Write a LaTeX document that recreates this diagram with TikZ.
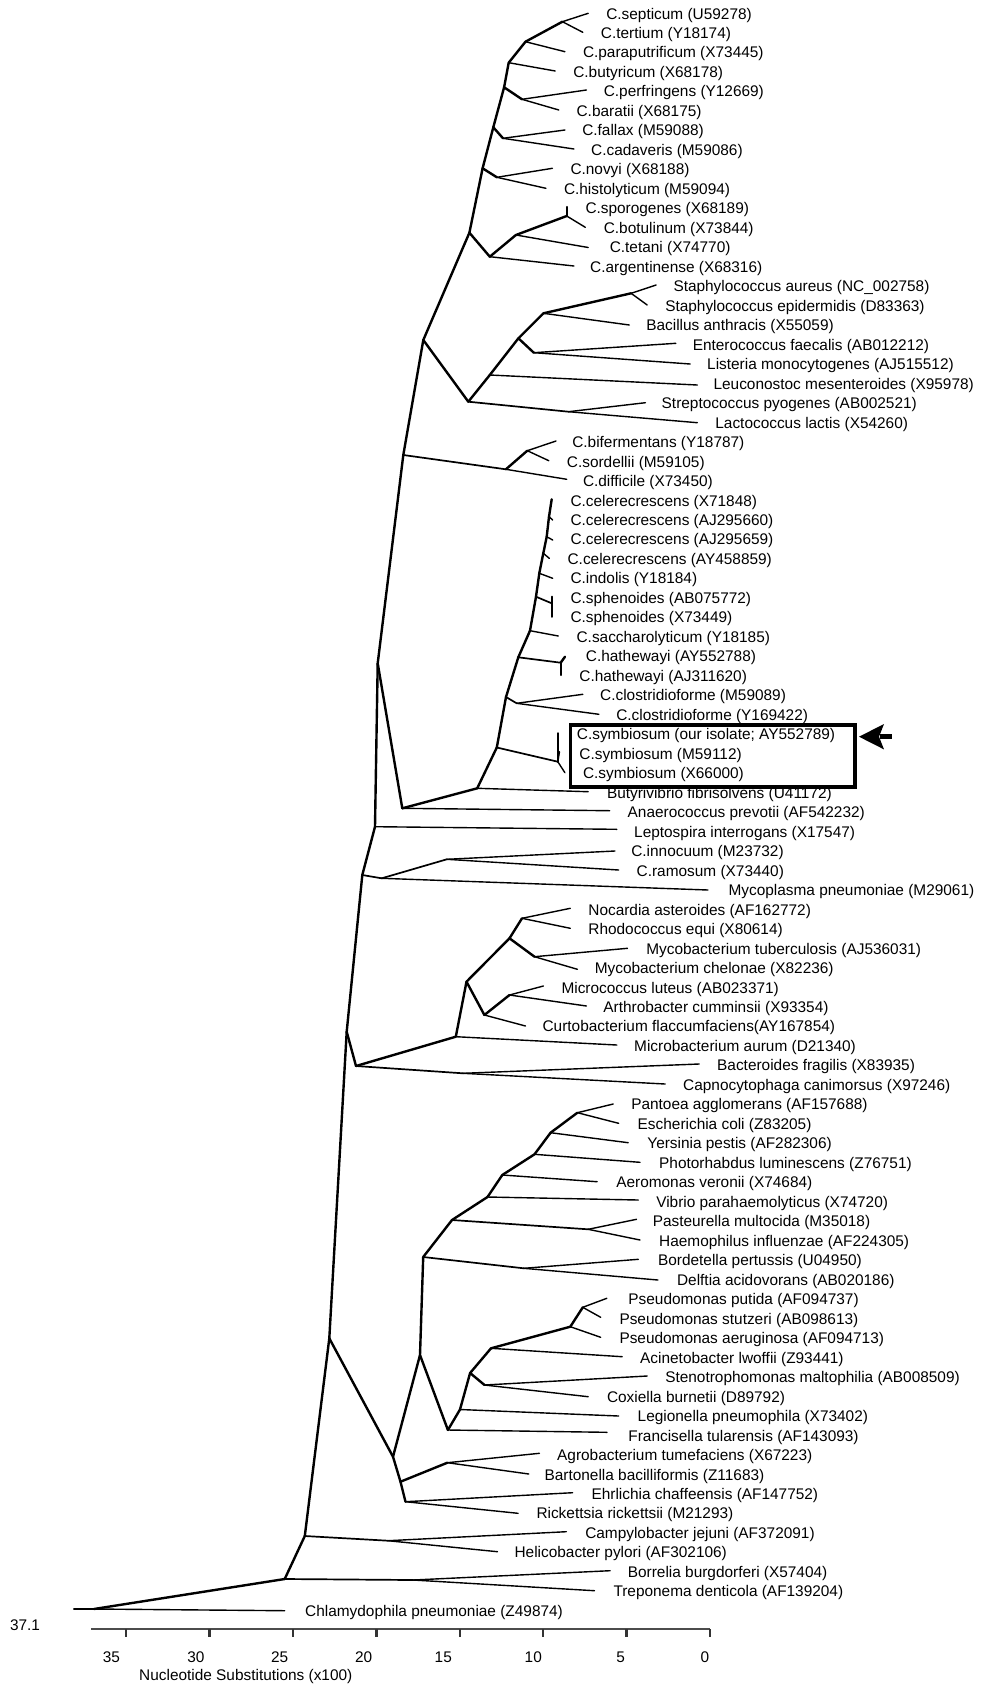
\documentclass[tikz,border=0pt]{standalone}
\usepackage{fontspec}
\setmainfont{Liberation Sans}
\newcommand{\mkleaf}[6]{%
  \coordinate (#1) at (#2,#3);
  \node[lab] (#1L) at (#4,{15+(#5-1)*19.48}) {#6};}
\begin{document}
\begin{tikzpicture}[x=1pt,y=-1pt,
  br/.style={line width=2.4pt,line cap=round,line join=round},
  md/.style={line width=1.7pt,line cap=round},
  tb/.style={line width=1.4pt,line cap=round},
  lab/.style={anchor=west,inner sep=0pt,font=\fontsize{15.4}{18}\selectfont,text height=11pt,text depth=3pt},
  axlab/.style={inner sep=0pt,font=\fontsize{15.4}{18}\selectfont}]
\useasboundingbox (0,0) rectangle (981,1684);
% internal nodes
\coordinate (st) at (562.4,21.7);
\coordinate (A) at (525.5,41.7);
\coordinate (B) at (508.7,62.7);
\coordinate (C) at (504.1,87.3);
\coordinate (pb) at (522,99.3);
\coordinate (D) at (493.3,127.3);
\coordinate (fc) at (503,138.3);
\coordinate (E) at (482.6,168.3);
\coordinate (nh) at (496.9,177.3);
\coordinate (F) at (469.4,232.7);
\coordinate (G) at (489.8,256.7);
\coordinate (H) at (515.9,235);
\coordinate (sb) at (566.7,216);
\coordinate (I) at (423.3,340);
\coordinate (J) at (468.3,401.7);
\coordinate (K) at (489.8,375);
\coordinate (L) at (518.4,338.3);
\coordinate (M) at (533.8,352.7);
\coordinate (N) at (543.4,313.3);
\coordinate (O) at (631.1,293.3);
\coordinate (P) at (568.5,411.7);
\coordinate (S) at (403.3,455);
\coordinate (Q) at (505.9,469.3);
\coordinate (R) at (527.3,450.7);
\coordinate (T) at (377.7,663.3);
\coordinate (V) at (402.3,808.3);
\coordinate (W) at (477.2,788.3);
\coordinate (sym) at (496.8,747.5);
\coordinate (symn) at (557.8,761.7);
\coordinate (clo) at (506,697);
\coordinate (clon) at (516.7,703.3);
\coordinate (hat) at (518.3,657.3);
\coordinate (hatn) at (560.7,662.7);
\coordinate (sac) at (530,630.7);
\coordinate (sph) at (536,596.7);
\coordinate (sphn) at (551.7,603.3);
\coordinate (indn) at (539.3,573.3);
\coordinate (c4) at (543.3,553.3);
\coordinate (c3) at (546.7,536.7);
\coordinate (c2) at (549,516.7);
\coordinate (U) at (375,826.7);
\coordinate (X) at (362.3,875);
\coordinate (Y) at (381.7,878.3);
\coordinate (Z) at (446.8,859.3);
\coordinate (AA) at (346.7,1031.7);
\coordinate (AB) at (356,1066);
\coordinate (AC) at (455.8,1036.7);
\coordinate (AD) at (466.5,981.7);
\coordinate (AE) at (484.4,1015);
\coordinate (AF) at (509.5,995);
\coordinate (AG) at (509.5,938.3);
\coordinate (AH) at (522,918.3);
\coordinate (AI) at (534.5,956.7);
\coordinate (AJ) at (462.9,1073.3);
\coordinate (AK) at (329.3,1338.3);
\coordinate (AL) at (393,1456.7);
\coordinate (AN) at (420,1355);
\coordinate (AP) at (423.2,1257);
\coordinate (AX) at (452,1220);
\coordinate (PH) at (588.2,1229.3);
\coordinate (AY) at (487.5,1197);
\coordinate (AZ) at (502.3,1175);
\coordinate (BA) at (534.5,1154.3);
\coordinate (BB) at (550.6,1132.7);
\coordinate (BC) at (577.4,1112.7);
\coordinate (BDn) at (523.8,1268.3);
\coordinate (AO) at (447.9,1430);
\coordinate (BD) at (460,1409.5);
\coordinate (BE) at (470.1,1373);
\coordinate (SC) at (484.5,1385);
\coordinate (BF) at (491,1348.3);
\coordinate (BG) at (570.3,1326.7);
\coordinate (BH) at (582.8,1307.3);
\coordinate (AQ) at (400.5,1481.7);
\coordinate (AR) at (447.4,1462.7);
\coordinate (AS) at (405.5,1501.7);
\coordinate (AT) at (304.8,1536);
\coordinate (AU) at (388,1540.7);
\coordinate (AV) at (284.7,1579);
\coordinate (AW) at (413,1580);
\coordinate (root) at (93.9,1609);
\coordinate (rootL) at (73.8,1609);
% leaves
\mkleaf{sep}{588.2}{13.3}{606.1}{1}{C.septicum (U59278)}
\mkleaf{ter}{582.8}{32.3}{600.7}{2}{C.tertium (Y18174)}
\mkleaf{par}{564.9}{51.7}{582.8}{3}{C.paraputrificum (X73445)}
\mkleaf{but}{555.2}{71}{573.1}{4}{C.butyricum (X68178)}
\mkleaf{per}{586.4}{90}{603.6}{5}{C.perfringens (Y12669)}
\mkleaf{bar}{558.8}{110}{576.4}{6}{C.baratii (X68175)}
\mkleaf{fal}{564.9}{130}{582.1}{7}{C.fallax (M59088)}
\mkleaf{cad}{573.9}{149}{591}{8}{C.cadaveris (M59086)}
\mkleaf{nov}{552.4}{168.3}{570.3}{9}{C.novyi (X68188)}
\mkleaf{his}{545.9}{188.3}{563.8}{10}{C.histolyticum (M59094)}
\mkleaf{spo}{566.7}{207}{585.3}{11}{C.sporogenes (X68189)}
\mkleaf{bot}{585.3}{227.3}{603.6}{12}{C.botulinum (X73844)}
\mkleaf{tet}{588.2}{247.5}{609.6}{13}{C.tetani (X74770)}
\mkleaf{arg}{573.9}{266}{590}{14}{C.argentinense (X68316)}
\mkleaf{sau}{656.1}{285}{673.3}{15}{Staphylococcus aureus (NC\_002758)}
\mkleaf{sepi}{647.2}{305}{665.1}{16}{Staphylococcus epidermidis (D83363)}
\mkleaf{ban}{629.3}{325}{646.1}{17}{Bacillus anthracis (X55059)}
\mkleaf{efa}{675.8}{343.3}{692.6}{18}{Enterococcus faecalis (AB012212)}
\mkleaf{lmo}{690.1}{364}{707}{19}{Listeria monocytogenes (AJ515512)}
\mkleaf{lme}{697.3}{385}{713.4}{20}{Leuconostoc mesenteroides (X95978)}
\mkleaf{spy}{645.4}{402.7}{661.5}{21}{Streptococcus pyogenes (AB002521)}
\mkleaf{lla}{697.3}{422.7}{715.2}{22}{Lactococcus lactis (X54260)}
\mkleaf{bif}{556}{441}{572.1}{23}{C.bifermentans (Y18787)}
\mkleaf{sor}{548.8}{460.7}{566.7}{24}{C.sordellii (M59105)}
\mkleaf{dif}{566.7}{479.3}{582.8}{25}{C.difficile (X73450)}
\mkleaf{ce1}{551.7}{499.3}{570.3}{26}{C.celerecrescens (X71848)}
\mkleaf{ce2}{552.7}{520}{570.3}{27}{C.celerecrescens (AJ295660)}
\mkleaf{ce3}{552.7}{540}{570.3}{28}{C.celerecrescens (AJ295659)}
\mkleaf{ce4}{549.3}{558.3}{567.4}{29}{C.celerecrescens (AY458859)}
\mkleaf{ind}{552.7}{578.3}{570.3}{30}{C.indolis (Y18184)}
\mkleaf{sp1}{551.7}{596.7}{570.3}{31}{C.sphenoides (AB075772)}
\mkleaf{sp2}{551.7}{616.7}{570.3}{32}{C.sphenoides (X73449)}
\mkleaf{sact}{558.3}{636}{576.4}{33}{C.saccharolyticum (Y18185)}
\mkleaf{ha1}{565}{656.7}{585.7}{34}{C.hathewayi (AY552788)}
\mkleaf{ha2}{560.7}{675}{579.2}{35}{C.hathewayi (AJ311620)}
\mkleaf{cl1}{582.8}{694.3}{600}{36}{C.clostridioforme (M59089)}
\mkleaf{cl2}{598.9}{714.3}{616.1}{37}{C.clostridioforme (Y169422)}
\mkleaf{sy1}{557.8}{733.3}{576.7}{38}{C.symbiosum (our isolate; AY552789)}
\mkleaf{sy2}{559.5}{751.7}{579.2}{39}{C.symbiosum (M59112)}
\mkleaf{sy3}{564.9}{772.7}{582.8}{40}{C.symbiosum (X66000)}
\mkleaf{bfi}{588.2}{791.7}{606.8}{41}{Butyrivibrio fibrisolvens (U41172)}
\mkleaf{apr}{609.6}{810.7}{627.5}{42}{Anaerococcus prevotii (AF542232)}
\mkleaf{lin}{616.8}{829.3}{634}{43}{Leptospira interrogans (X17547)}
\mkleaf{cin}{615}{851}{631.1}{44}{C.innocuum (M23732)}
\mkleaf{cra}{618.6}{870}{636.5}{45}{C.ramosum (X73440)}
\mkleaf{mpn}{708}{890}{728.4}{46}{Mycoplasma pneumoniae (M29061)}
\mkleaf{nas}{570.3}{908.3}{588.2}{47}{Nocardia asteroides (AF162772)}
\mkleaf{req}{570.3}{928.3}{588.2}{48}{Rhodococcus equi (X80614)}
\mkleaf{mtb}{627.5}{948.3}{646.1}{49}{Mycobacterium tuberculosis (AJ536031)}
\mkleaf{mch}{577.4}{969.3}{594.6}{50}{Mycobacterium chelonae (X82236)}
\mkleaf{mlu}{543.4}{986}{561.3}{51}{Micrococcus luteus (AB023371)}
\mkleaf{acu}{586.4}{1006}{603.2}{52}{Arthrobacter cumminsii (X93354)}
\mkleaf{cfl}{525.5}{1026}{542.4}{53}{Curtobacterium flaccumfaciens(AY167854)}
\mkleaf{mau}{616.8}{1045}{634}{54}{Microbacterium aurum (D21340)}
\mkleaf{bfr}{699.1}{1064}{717}{55}{Bacteroides fragilis (X83935)}
\mkleaf{cca}{665.1}{1084}{683}{56}{Capnocytophaga canimorsus (X97246)}
\mkleaf{pag}{613.2}{1104}{631.1}{57}{Pantoea agglomerans (AF157688)}
\mkleaf{eco}{618.6}{1123.3}{637.5}{58}{Escherichia coli (Z83205)}
\mkleaf{ype}{628.2}{1142.7}{647.2}{59}{Yersinia pestis (AF282306)}
\mkleaf{plu}{640}{1162.3}{659}{60}{Photorhabdus luminescens (Z76751)}
\mkleaf{ave}{597.1}{1181.7}{616.1}{61}{Aeromonas veronii (X74684)}
\mkleaf{vpa}{638.3}{1200}{656.1}{62}{Vibrio parahaemolyticus (X74720)}
\mkleaf{pmu}{636.5}{1219.3}{652.6}{63}{Pasteurella multocida (M35018)}
\mkleaf{hin}{640}{1240}{659}{64}{Haemophilus influenzae (AF224305)}
\mkleaf{bpe}{638.3}{1259.3}{657.9}{65}{Bordetella pertussis (U04950)}
\mkleaf{dac}{657.9}{1280}{676.9}{66}{Delftia acidovorans (AB020186)}
\mkleaf{ppu}{606.8}{1298.3}{628.2}{67}{Pseudomonas putida (AF094737)}
\mkleaf{pst}{600.7}{1317.3}{619.3}{68}{Pseudomonas stutzeri (AB098613)}
\mkleaf{pae}{600.7}{1337.3}{619.3}{69}{Pseudomonas aeruginosa (AF094713)}
\mkleaf{alw}{622.2}{1356.7}{640}{70}{Acinetobacter lwoffii (Z93441)}
\mkleaf{sma}{647.2}{1376}{665.1}{71}{Stenotrophomonas maltophilia (AB008509)}
\mkleaf{cbu}{588.2}{1396.7}{606.8}{72}{Coxiella burnetii (D89792)}
\mkleaf{lpn}{618.6}{1416}{637.5}{73}{Legionella pneumophila (X73402)}
\mkleaf{ftu}{607}{1432.3}{628.2}{74}{Francisella tularensis (AF143093)}
\mkleaf{atu}{539.4}{1453.3}{557}{75}{Agrobacterium tumefaciens (X67223)}
\mkleaf{bba}{528.8}{1474}{544.4}{76}{Bartonella bacilliformis (Z11683)}
\mkleaf{ech}{572.6}{1492.7}{591.4}{77}{Ehrlichia chaffeensis (AF147752)}
\mkleaf{rri}{518.1}{1513.3}{536.3}{78}{Rickettsia rickettsii (M21293)}
\mkleaf{cje}{566.3}{1531.7}{585.1}{79}{Campylobacter jejuni (AF372091)}
\mkleaf{hpy}{497.5}{1551.7}{514.4}{80}{Helicobacter pylori (AF302106)}
\mkleaf{bbu}{610.1}{1570.7}{627.7}{81}{Borrelia burgdorferi (X57404)}
\mkleaf{tde}{594.5}{1590.7}{613.3}{82}{Treponema denticola (AF139204)}
\mkleaf{cpn}{284.7}{1610.7}{305}{83}{Chlamydophila pneumoniae (Z49874)}
% thick internal branches
\foreach \a/\b in {F/E,E/D,D/C,C/B,B/A,A/st,C/pb,D/fc,E/nh,F/G,G/H,H/sb,sb/spo,
  F/I,I/J,J/K,K/L,L/M,L/N,N/O,I/S,Q/R,S/T,
  T/V,V/W,W/sym,sym/clo,clo/hat,hat/sac,sac/sph,sph/indn,indn/c4,c4/c3,c3/c2,c2/ce1,
  sp1/sp2,ha1/hatn,hatn/ha2,sy1/symn,
  T/U,U/X,X/AA,AA/AB,AB/AC,AC/AD,AD/AG,AG/AH,AG/AI,AD/AE,AE/AF,
  AA/AK,AK/AL,AL/AN,AN/AP,AP/AX,AX/AY,AY/AZ,AZ/BA,BA/BB,BB/BC,
  AN/AO,AO/BD,BD/BE,BE/BF,BE/SC,BF/BG,BG/BH,AL/AQ,AQ/AR,AQ/AS,AK/AT,AT/AV,AV/root}
  \draw[br] (\a) -- (\b);
% medium internal branches
\foreach \a/\b in {J/P,S/Q,X/Y,Y/Z,AB/AJ,AP/BDn,AX/PH,AT/AU,AV/AW,sym/symn,clo/clon,hat/hatn,sph/sphn}
  \draw[md] (\a) -- (\b);
% terminal branches
\foreach \a/\b in {st/sep,st/ter,A/par,B/but,pb/per,pb/bar,fc/fal,fc/cad,nh/nov,nh/his,sb/bot,H/tet,G/arg,
  O/sau,O/sepi,N/ban,M/efa,M/lmo,K/lme,P/spy,P/lla,R/bif,R/sor,Q/dif,
  c2/ce2,c3/ce3,c4/ce4,indn/ind,sac/sact,clon/cl1,clon/cl2,symn/sy2,symn/sy3,
  W/bfi,V/apr,U/lin,Z/cin,Z/cra,Y/mpn,AH/nas,AH/req,AI/mtb,AI/mch,AF/mlu,AF/acu,AE/cfl,AC/mau,
  AJ/bfr,AJ/cca,BC/pag,BC/eco,BB/ype,BA/plu,AZ/ave,AY/vpa,PH/pmu,PH/hin,BDn/bpe,BDn/dac,
  BH/ppu,BH/pst,BG/pae,BF/alw,SC/sma,SC/cbu,BD/lpn,AO/ftu,AR/atu,AR/bba,AS/ech,AS/rri,
  AU/cje,AU/hpy,AW/bbu,AW/tde,root/cpn,rootL/root}
  \draw[tb] (\a) -- (\b);
% highlight box and arrow
\draw[line width=3.6pt] (570.3,725) rectangle (854.7,786.7);
\coordinate (arrtip) at (859,736.7);
\coordinate (arrend) at (892,736.7);
\fill (arrtip) -- (884,724) -- (879,736.7) -- (884,749.4) -- cycle;
\draw[line width=5pt] (880,736.7) -- (arrend);
% scale axis
\draw[line width=1.8pt,black!70] (91.2,1629) -- (710,1629);
\foreach \k in {0,...,7}
  \draw[line width=2.4pt,black!80] ({710-\k*83.4},1629) -- ({710-\k*83.4},1637);
\foreach \v/\xx in {35/111.4,30/195.9,25/279.7,20/363.7,15/443.3,10/533.3,5/620.7,0/705}
  \node[axlab] at (\xx,1657) {\v};
\node[axlab] (maxv) at (25,1625) {37.1};
\node[axlab,anchor=west] (axt) at (139,1676) {Nucleotide Substitutions (x100)};
\end{tikzpicture}
\end{document}
